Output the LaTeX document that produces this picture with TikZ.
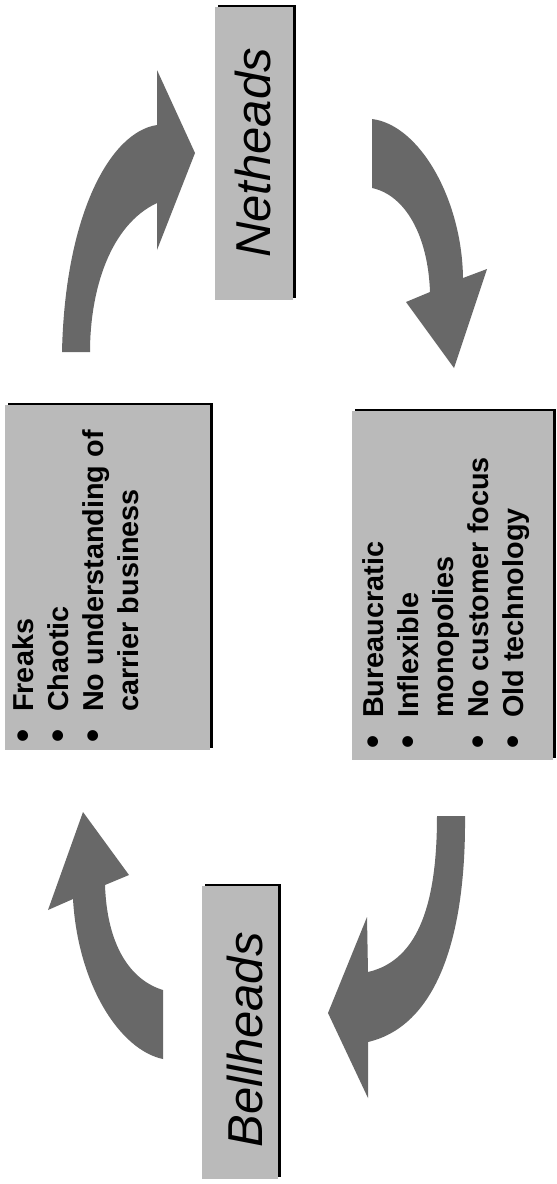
\documentclass[tikz,border=0pt]{standalone}
\usepackage{fontspec}
\setmainfont{Liberation Sans}
\usetikzlibrary{shadows}
\definecolor{boxgray}{RGB}{186,186,186}
\definecolor{arrowgray}{RGB}{104,104,104}
\newcommand{\bulletmark}{\makebox[30.5pt][l]{\raisebox{-2pt}{\scalebox{1.3}{\textbullet}}}}
\newcommand{\nobulletmark}{\makebox[30.5pt][l]{}}
\begin{document}
\begin{tikzpicture}[x=1pt,y=-1pt,
  panel/.style={fill=boxgray, draw=none, inner sep=0pt, outer sep=0pt,
    drop shadow={shadow xshift=2.5pt, shadow yshift=2.5pt, fill=black, opacity=1}},
  titletext/.style={rotate=90, inner sep=0pt, anchor=base,
    font=\fontsize{49}{55}\selectfont\itshape, text=black},
  listtext/.style={rotate=90, inner sep=0pt, anchor=base west,
    font=\fontsize{28.8}{34}\selectfont\bfseries, text=black},
  blockarrow/.style={fill=arrowgray, draw=none}]
\useasboundingbox (0,0) rectangle (557,1184);
\fill[white] (0,0) rectangle (557,1184);

% boxes
\node[panel, minimum width=78pt, minimum height=293pt] (netbox) at (254,153.5) {};
\node[panel, minimum width=205pt, minimum height=345pt] (freakbox) at (107.5,577.5) {};
\node[panel, minimum width=201pt, minimum height=349pt] (bellsbox) at (452.5,585.5) {};
\node[panel, minimum width=76pt, minimum height=293pt] (bellbox) at (240,1032.5) {};

% titles
\node[titletext] (nettext) at (270,153) {Netheads};
\node[titletext] (belltext) at (262,1040) {Bellheads};

% Netheads list
\node[listtext] (f1) at (33.5,742.5) {\bulletmark Freaks};
\node[listtext] (f2) at (68.5,742.5) {\bulletmark Chaotic};
\node[listtext] (f3) at (103.5,742.5) {\bulletmark No understanding of};
\node[listtext] (f4) at (138.5,742.5) {\nobulletmark carrier business};

% Bellheads list
\node[listtext] (b1) at (383,748.5) {\bulletmark Bureaucratic};
\node[listtext] (b2) at (418,748.5) {\bulletmark Inflexible};
\node[listtext] (b3) at (453,748.5) {\nobulletmark monopolies};
\node[listtext] (b4) at (488,748.5) {\bulletmark No customer focus};
\node[listtext] (b5) at (523,748.5) {\bulletmark Old technology};

% arrow 1: bottom-left of Netheads, up and right
\fill[blockarrow] (62,352) -- (90,352)
  .. controls (90,290) and (110,225) .. (157,203)
  -- (157,250) -- (195,153) -- (157,70) -- (157,125)
  .. controls (110,132) and (65,215) .. (62,352) -- cycle;

% arrow 2: right of Netheads, right and down
\fill[blockarrow] (372,119)
  .. controls (420,125) and (462,200) .. (463,278)
  -- (487,269) -- (454,368) -- (406,302) -- (430,292)
  .. controls (428,235) and (405,195) .. (372,188) -- cycle;

% arrow 3: bottom-right, down and left
\fill[blockarrow] (437,816) -- (465,816)
  .. controls (466,930) and (440,1025) .. (368,1042)
  -- (368,1098) -- (328,1013) -- (367,917) -- (368,972)
  .. controls (420,960) and (437,900) .. (437,816) -- cycle;

% arrow 4: bottom-left, up
\fill[blockarrow] (163,990) -- (163,1059)
  .. controls (120,1050) and (78,985) .. (73,899)
  -- (48,910) -- (83,812) -- (129,875) -- (105,885)
  .. controls (107,945) and (130,980) .. (163,990) -- cycle;
\end{tikzpicture}
\end{document}
